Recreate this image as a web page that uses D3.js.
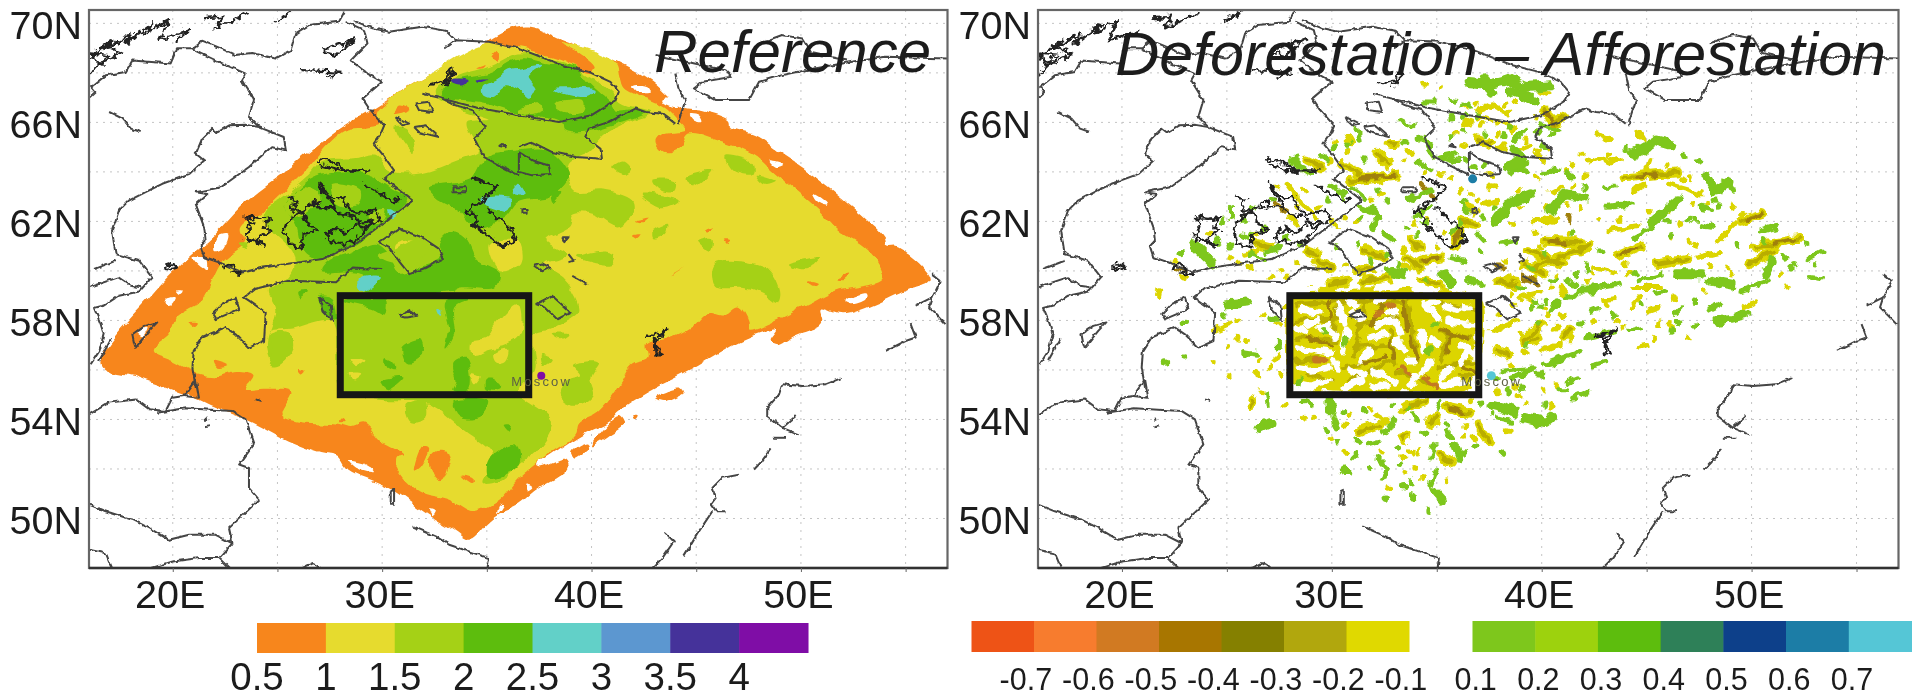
<!DOCTYPE html>
<html>
<head>
<meta charset="utf-8">
<style>
  body { margin: 0; background: #fff; }
  text { font-family: "Liberation Sans", Arial, sans-serif; fill: #1a1a1a; }
  .axis path { stroke: #333; stroke-width: 2.5; }
  .axis line { stroke: #666; }
  .axis text { font-size: 39.5px; }
</style>
<script src="https://cdn.jsdelivr.net/npm/d3@7"></script>
</head>
<body>
<div id="chart"></div>
<script>
// map values, all as flat lon,lat lists
var lonTicks = [20, 25, 30, 35, 40, 45, 50, 55];
var latTicks = [50, 52, 54, 56, 58, 60, 62, 64, 66, 68, 70];
var box = [28, 55, 37, 59];
var moscow = [37.6, 55.77];

var swathOrange = [
 [37,69.86,38.6,69.32,41.2,68.45,42.9,67.64,44.3,66.62,45.2,66.5,46.6,66.08,46.7,65.75,47.8,65.48,49.1,64.73,50.5,63.92,52.5,62.57,54,61.36,54.1,61,54.7,60.95,56.2,59.67,55,59.2,52.1,58.25,50.9,58.46,51,57.9,49.7,57.4,48.9,57.04,48.6,57.2,48.9,57.65,47.3,57.24,44.8,56.03,42.9,55.2,41.3,54.34,40.83,53.93,39.55,53.4,38.1,52.6,37.4,52.18,37.6,52.1,38.7,52.4,38.9,52.05,37.3,51.1,36.53,50.56,35.6,50.2,34.95,49.75,34.2,49.14,33.36,49.55,32.2,50.15,30.2,51.3,28.4,51.97,27.9,52.5,27,52.65,25.55,53.1,23.8,53.87,22.05,54.47,20.8,54.95,18.4,55.7,16.56,56.23,19.2,59.2,20.8,60.55,21.9,61.36,23.6,62.85,25.7,64.2,27.9,65.68,29.5,66.5,31.9,67.77,34,68.7,36.06,69.73],
 [41.31,54.14,41.55,53.8,41,53.4,40.03,52.92,40.35,53.4,40.83,53.87],
 [39.08,52.72,39.8,53.06,39.87,52.79,39.24,52.38],
 [42.98,54.88,44.25,55.28,44.41,55.08,43.54,54.75],
 [42,54.2,42.3,54.2,42.1,54]
];
var swathHoles = [
 [41.94,67.5,42.66,67.5,42.82,67.23,42.18,67.23],[43.38,66.96,43.93,66.96,44.17,66.62,43.53,66.76],[44.65,66.36,45.13,66.29,45.29,66.02,44.89,66.08],
 [48.55,64.46,49.2,64.33,48.87,64.2],[50.54,63.11,51.18,62.78,51.26,62.64,50.78,62.78],[22.13,61.36,22.6,61.43,22.37,60.89,21.9,60.82],
 [21,60.55,21.5,60.48,21.57,60.08,21.18,60.28],[19.66,58.86,20.14,58.93,19.9,58.6,19.63,58.63],[20.2,59.2,20.54,59.2,20.38,59.06],
 [28.42,52.31,29.22,52.18,29.7,51.84,28.74,52.04],[32.24,50.36,32.56,50.29,32.4,50.09],[35.59,50.56,35.83,50.63,35.5,50.22],
 [18.23,57.51,18.79,57.71,18.55,57.31],[52.13,58.8,53.09,59.13,53.09,58.86,52.3,58.66],[36.85,51.37,37.17,51.23,36.93,51.1]
];
var swathYellow = [
 [35.1,69.2,36.53,68.99,38.44,68.58,39.95,68.04,40.2,68.24,39.4,68.85,38.5,69.25,41.15,68.45,41.4,67.77,41.6,67.37,43.5,66.63,44.3,65.95,44.5,65.68,43.4,65.5,43.1,65.2,43.5,64.8,44.2,65,44.65,65.55,46.1,65.27,47.7,64.73,48.6,64.06,49.75,63.25,50.86,62.44,51.8,61.63,53.25,60.8,53.9,59.74,51.66,59.2,50.4,58.66,48.95,58.05,47.5,57.6,47.5,57.98,47,58.6,46.25,58.2,45.6,58.3,44.8,57.7,43.7,57.24,42.66,57,42.66,56.5,41.94,56.23,41.3,55.4,40.35,54.34,39.4,53.87,39.24,53.4,37.96,52.6,36.53,51.64,35.6,50.76,34.3,50.3,33.2,50.76,31.76,51.1,30.7,52.04,30.65,52.45,31.1,52.58,30,53.1,29.2,53.8,28.6,53.66,27.86,53.8,25.87,53.93,25.2,54.2,25.7,55.15,24.44,55.28,23.5,55.28,23.8,55.8,23,55.96,22.05,55.75,20.94,55.96,20,56.36,19,56.77,19.8,57.44,20.14,58.1,21.4,58.8,21.7,59.2,22.4,60.4,23.5,61.2,23.3,61.76,24.3,62.44,25.55,63.4,26.5,64.2,27.6,65.27,28.26,65.68,29.4,65.8,30,65.95,29.7,66.35,31.9,67.77]
];
var orangeSpots = [
 [42.18,62.03,42.74,62.14,42.5,61.97],[41.94,61.43,42.34,61.47,42.18,61.29],[45.42,61.7,45.8,61.83,45.6,61.63],[46.37,61.22,46.64,61.22,46.48,61.09],
 [43.82,59.87,44.41,60.17,44,59.94],[50.3,59.58,50.86,59.47,50.62,59.36],[51.74,59.67,52.3,59.85,52.06,59.63],[20.7,57.92,21.1,57.92,20.86,57.78],
 [21.97,56.36,22.7,56.16,22.13,56.1],[26.03,56.03,26.35,55.96,26.2,55.82],[28.02,54,28.26,53.87,27.94,53.87],[31.53,51.9,31.92,52.92,32.24,52.85,31.84,52.04],
 [32.24,52.31,32.56,52.72,33.28,52.58,33.2,52.04,32.88,51.44,32.56,51.5],[33.75,51.77,34.3,51.64,34.3,51.44],[30.57,66.35,31.37,66.56,30.8,66.76],
 [35.27,68.58,35.5,68.81,35.5,68.5],[34.55,68.18,34.95,68.31,34.8,68.18]
];
var limePatches = [
 [32.56,67.23,33.5,67.84,35.1,68.25,36.53,68.78,37.96,68.65,39.7,67.97,40.8,67.3,41.46,66.76,42.9,66.42,41.94,66.08,40.67,65.55,39.95,64.87,38.9,64.33,39.24,63.25,40.5,63.25,41.94,62.84,41.94,62.3,41.3,61.76,40,62.3,39.1,62.3,38.9,61.76,37.8,61.22,38.76,60.68,37.8,60.28,38.6,59.74,39.1,59.2,39.4,58.4,38.1,57.7,37.25,57.44,37.3,55.96,36.53,55.15,38.1,53.93,37.5,52.85,36.53,52.18,35.6,51.5,34.8,51.44,35.1,52.05,35.27,52.6,34,53.53,33.36,53.93,32.56,54.47,31.9,54.74,29.85,54.8,28.1,55.15,27.6,57.98,25.55,57.7,24.6,57.58,24.9,57.17,25.55,56.9,24.9,56.2,24.5,57,24.9,58.4,24.6,59.2,25.6,59.8,25.87,60.28,25.7,60.82,24.8,61.6,24.3,62.3,25.4,63.1,26.5,63.9,27.15,64.46,28.74,64.6,29.7,64.73,30.33,64.06,31.9,63.99,33.5,64.46,34.6,64.87,34.3,65.27,34,65.95,35.1,66.08,33.8,66.49],
 [31.13,54.6,32.1,54.74,32.1,54,31.3,53.87],[40.99,64.2,41.46,64.46,41.86,64.06,41.46,63.92],[42.9,63.65,44,63.65,43.93,63.25,43.2,63.3],[42.4,63.11,44.17,62.84,43.38,62.57],
 [44.5,63.79,45.77,64.06,44.8,63.38],[46.4,64.6,47.68,64.33,47.68,63.92,46.72,64.06],[47.84,63.92,48.8,63.65,48.3,63.52],
 [45.9,60.28,48.3,60.14,49,59.2,48.9,58.7,48.3,59,47.4,59.3,45.9,59.4],[49.43,60.28,50.86,60.55,50.2,60.07],[42.98,61.63,43.6,61.9,43.5,61.5,43,61.36],
 [45.13,61.22,45.85,61.36,45.77,60.82],[40.5,60.82,41.15,60.68,41,60.28,39.4,60.55],[39.16,56.2,40.35,56.3,39.95,55.7,40.1,54.95,39.25,54.55,38.5,54.88,38.76,55.55,39.5,55.8],
 [37.5,56.63,38.1,56.43,37.64,56.16],[38.1,57.44,38.9,57.44,38.5,57.24],[30.65,65.81,31.13,65.81,31.45,64.73,30.97,65.14],[23.17,61.09,23.64,61.09,23.48,60.89],
 [24.6,57.44,25.4,57.58,25.7,56.9,25.08,56.23,24.6,56.23,24.84,56.9]
];
var yellowOverLime = [
 [36.54,58.66,35.6,57.98,34.95,57.3,34.3,57.17,34.3,56.63,34.95,56.77,36.54,57.31],[35.27,56.63,36.06,56.84,35.9,56.36,35.4,56.3],[34.3,55.82,34.7,55.7,34.47,55.42],
 [28.4,56.5,29.2,56.43,28.74,56.16],[28.5,55.82,29,55.82,28.66,55.62],[30.65,61.09,31.6,61.22,31.76,60.41,30.8,60.55],[35.1,61.09,36.4,61.22,36.54,60.28,35.6,60]
];
var greenPatches = [
 [32.88,67,33.36,67.64,35.1,67.97,36.54,68.58,37.96,68.38,39.24,68.25,39.8,67.64,40.83,66.83,41.15,66.49,41.8,66.52,42.58,66.42,40.67,65.81,39.55,65.61,38.76,65.68,38.6,66.02,37.33,66.22,36.53,66.35,34.8,66.76,33.5,66.9],
 [33.5,63.59,34.3,63.79,34.95,64.6,36.54,64.87,37.96,64.87,38.92,63.92,38.6,63.38,37.96,63,36.53,62.78,35.9,62.17,34.47,61.76,33.67,62.44,32.56,62.98,32.24,63.38],
 [38.12,63.18,38.6,63.18,38.2,62.7],
 [27.15,63.93,29.2,63.93,30.33,63.38,31.2,62.9,30.33,62.17,28.74,61.09,27,60.48,26.2,60.95,25.87,61.9,25.4,62.57,26.2,63.5],
 [28.4,60.68,29.7,61.09,30.33,60.68,30.8,59.87,31.9,60.14,32.88,60.55,32.7,61.09,33.36,61.63,34,61.36,34.6,60.41,35.6,59.87,35.4,59.33,33.8,59.33,33.36,59.2,29.2,59.2,29.06,59.87,28.26,60.01,27.15,60.01,27.5,60.41],
 [28.1,58.8,30.17,58.86,30.17,58.25,29.38,58.52],[33.04,58.8,34.15,58.86,33.44,58.52,33.44,57.44,33.04,56.9,33.2,57.7],[30.97,56.9,31.92,57.24,32.08,56.77,31.29,56.3],
 [30.17,56.5,30.57,56.36,30.65,55.96,30.25,56.09],[29.93,55.55,30.97,55.69,30.25,55.22],[33.36,56.23,34,56.43,34.15,55.22,33.36,55.22,33.5,55.55],[34.95,55.55,35.6,55.42,35.6,55.22,34.95,55.22],
 [33.36,54.74,35.1,54.74,34.7,54.14,33.83,54.07,33.44,54.34],[35.35,52.58,36.38,52.99,36.54,52.18,35.1,51.64,34.95,52.04],[35.75,53.73,36.14,53.73,36,53.46],
 [26,59.07,26.5,59.13,26.1,58.86],[27,58.93,27.62,58.86,27.8,57.98,27.5,58.1]
];
var limeOverGreen = [
 [36.53,66.49,37.48,66.76,37.64,66.49,37,66.29],[38.28,66.76,39.55,66.9,39.55,66.49,38.6,66.49],
 [25.4,62.57,26.2,63.38,27,63,26.35,62.3,25.7,62.17],[27.6,63.5,28.9,63.25,28.74,62.57,27.8,62.7],[29.4,62.2,30.2,62.5,29.9,61.9],[29.8,60.6,30.6,60.9,31.6,61.3,32.3,60.7,31.5,60.3,30.6,60.3]
];
var cyanPatches = [
 [34.8,67.43,35.43,67.7,36.06,68.1,36.54,68.18,37.64,68.31,37,67.84,37.33,67.37,37,67.03,36.53,67.3,35.9,67.5,35.27,67.03,34.8,67.16],
 [38.12,67.37,40.1,67.3,39.87,67.06,38.9,67.1],[34.63,62.85,35.43,63.05,36.14,62.91,36,62.44,35.35,62.57],[28.98,59.74,30,59.8,29.38,59.33,29,59.2],
 [36.14,63.18,36.54,63.52,36.85,63.1,36.54,63.05],[30.3,62.5,30.65,62.3,30.4,62.17],[32.64,58.46,32.88,58.4,32.8,58.2]
];
var bluePatches = [[33.28,67.7,34.07,67.66,33.9,67.5,33.36,67.57],[34.47,67.73,35.03,67.77,34.55,67.64]];

var coastlines = [
 [16,67,16.3,67.23,16.1,67.43,16.8,67.9,17.75,68.04,18.07,68.5,19.9,68.38,20.2,68.99,20.94,68.99,21.4,69.3,22.13,69.05,23,68.72,23.8,68.8,24.9,68.58,25.63,68.92,25.87,69.6,26.5,69.93,27.94,70.07,28.2,70.47],
 [20.94,68.95,22.05,68.5,23.48,67.97,23.3,67.7,23.48,67.44,23.88,66.9,23.64,66.22,24.12,65.81],
 [24.12,65.81,23.5,65.9,22.7,65.88,22.13,65.6,21.9,65.75,21.4,65.34,21.1,64.73,21.5,64.46,20.8,63.92,19.5,63.52,18.7,63.18,17.9,62.84,17.43,62.44,17.1,61.63,17.27,60.68,18.4,60.41,19,59.74,18.4,59.17,17.43,59,16.7,58.6,16.24,58.5,16.56,57.85,16.7,57.44,16.5,56.77,16.08,56.23],
 [17.08,57.28,16.48,56.36],
 [24.12,65.81,25.3,65.41,25.4,64.87,24.7,65,23.64,64.2,22.3,63.38,21.1,63.18,21.65,63.11,21.1,62.7,21.5,61.76,21.57,61.22,21.33,61,21.5,60.55,22.2,60.35,23.33,59.94,24.3,60.14,27.15,60.48,28.74,61.09,31.45,62.84],
 [31.45,62.84,30.1,63.72,30.57,64.06,30,64.73,29.6,65.14,29.93,65.54,30.1,65.88,29.38,66.56,29.06,66.96,30,67.64,29.3,67.97,28.5,68.5,29.3,69.19,29.14,69.73,28.26,70.07],
 [30,60.08,29.3,60.1,28.6,60.14,27.8,59.54,25.55,59.6,23.9,59.27,23.4,58.93,23.64,58.8,24.44,58.32,24.36,57.17,23.64,56.9,23,57.44,22.53,57.71,21.41,57.31,21,56.77,20.94,56.1,21.1,55.28],
 [29.85,61.16,30.8,61.7,31.9,61.36,32.7,60.9,32.9,60.48,32.1,60.14,31.3,59.87,30.8,60.4,30.33,60.95,29.85,61.16],
 [33.36,63.38,34,63.38,34,63.18,33.36,63.18,33.36,63.38],
 [30.65,66.22,31.29,65.95,30.97,65.88,30.73,66.08,30.65,66.22],[31.53,65.81,32.08,65.88,32.72,65.41,31.76,65.61,31.53,65.81],[31.6,66.76,32.24,66.83,32.4,66.42,31.76,66.49,31.6,66.76],
 [35.75,65.14,35.9,65,35.6,65.05,35.75,65.14],
 [31.92,67.16,32.88,66.96,33.5,66.69,34.3,66.49,34.95,65.81,34.4,65.34,34.87,64.6,35.75,64.2,36.54,63.86],
 [36.53,65,37.17,65.2,38.12,64.8,39.24,64.6,40.5,64.53,40.43,64.93,39.7,65.41,39.87,65.75,40.83,66.02,42.1,66.56,42.58,66.42,43.38,66.35,44,65.95],
 [36.53,64.8,37.17,64.46,37.96,64.26,38.04,63.92,37.17,63.86,36.53,64,36.53,64.8],
 [32.88,66.96,34.5,66.6,36.54,66.29,38.44,66.02,40,66.29,41.15,66.9,41.3,67.23,40.9,67.64,39.87,68.04,38.6,68.31,36.53,68.99,35.1,69.26,33.5,69.32,32.96,68.99],
 [28.58,70.13,29.54,69.8,30.33,69.66,31.92,69.86,33.04,69.7,33.5,69.32],
 [44,67.97,44.17,67.3,44.49,66.9,44.17,66.08,44.17,65.88],
 [43.06,68.72,46.4,68.11,46.72,67.84,45.3,67.64,44.89,67.37,45.9,66.9,47.52,66.9,48,67.64,49.1,67.91,50.2,68.11,52.45,68.45,54.05,68.65,57,68.58],
 [48,69.19,49.1,69.53,50.07,69.39,50.5,68.8,52.2,68.5],
 [16.24,60.08,17.27,60.41],[16.96,66.42,17.6,66.15,18,65.75,18.47,65.61],[16,59.34,17.4,59.74,18,59.4,18.5,59.34],
 [18.15,57.1,18.07,57.44,18.63,57.78,19.26,57.92,18.87,57.58,18.23,56.9,18.15,57.1],
 [21.9,58.25,22.37,58.66,23,58.93,23.17,58.46,22.05,58.05,21.9,58.25],[21.1,55.62,20.54,54.95,21.25,54.88,21.1,55.62],
 [16,54.2,16.96,54.68,18.23,54.81,18.87,54.41,19.66,54.34,19.98,54.88,20.54,54.95],
 [19.26,54.27,20.6,54.45,22.85,54.34,23.48,54,23.88,52.99,23.17,52.18,23.64,52.04,23.64,51.23,24.12,50.76,22.69,49.61,22.85,49,22.21,48.4,22.69,48],
 [16,50.56,16.8,50.29,18.07,49.95,18.87,49.61,19.82,49.14,20.78,49.34,22.05,49.34,22.85,49],[16,48.74,16.8,48.6,17.1,48],[19,48,20,48.26,21.26,48.4,22.21,48.4],[26.2,48,26.67,48.2,27.07,48],
 [21.57,54.07,21.6,53.95],[21.5,53.69,21.8,53.73],[23.96,54.81,24.2,54.74],[30.41,51.1,30.57,51.17,30.57,50.56,30.41,50.56,30.41,51.1],
 [31.45,49.68,32.56,49.28,33.2,48.94,35.1,48.4,35.03,47.93],
 [54.05,56.77,55,57.17,55.48,57.31,55.24,57.85],[55.48,58.6,56.27,58.93,56.12,58.53,56.9,57.85],[56.27,59.87,56.67,59.6,56.44,59.2,56.27,58.93],
 [49.11,55.42,50.07,55.35,51.18,55.42,51.9,55.66],[49.11,55.42,48.95,55,48.39,54.47,48.39,54.14,49.11,53.66,49.75,54.14],[49.11,53.66,49.9,53.4],[48.63,53.26,49.27,53.26],
 [48.55,52.79,48.07,52.25,47.76,51.98],[47.04,51.77,46.24,51.64,45.77,51.23,45.93,50.83,45.69,50.56,45.93,50.29,46.4,50.29],[45.77,50.29,45.13,49.48,44.41,48.47],[43.54,49.41,43.93,49.07,43.38,48.4,42.82,47.93],
 [37.33,58.66,38.12,59,39,58.32,38.36,58.05,37.8,58.52,37.33,58.66],[26.99,58.93,27.55,58.6,27.62,57.98,27.15,58.4,26.99,58.93],[30.8,58.19,31.29,58.39,31.68,58.19,31.13,58.12,30.8,58.19],
 [36.7,62.5,36.9,62.5,36.9,62.35,36.7,62.35,36.7,62.5],[38.6,61.36,38.9,61.36,38.7,61.16,38.6,61.36],[38.9,60.68,39.15,60.41,38.9,60.35],[37.25,60.21,37.64,60.3,38.04,60.14,37.64,59.98,37.25,60.21],[39.08,59.8,39.8,59.47]
];
// lake clusters and fjords, drawn rougher and darker
var roughCoast = [
 [23.4,61.36,23.8,61.9,23.48,62.17,24.1,62.1,24.68,62.17,24.36,61.76,24.68,61.63,23.96,61.22,24.44,61.02,23.4,61.36],
 [25.4,63.05,25.87,62.84,25.7,62.44,26.2,62.44,27,62.84,26.9,62.57,27.78,62.57,27.15,63.38,27,63.52,27.3,62.98,28.1,62.98,28.34,62.57,28.74,62.3,29.7,62.44,29.93,62.03,29.06,61.76,28.74,62.17,28.1,62.3,27.46,62.57],
 [25.24,61.63,25.55,62.03,26.2,62.44,26.5,61.9,27,61.63,26.2,61.5,26.2,60.95,25.55,61.09,25.3,61.63],
 [27.3,61.36,27.78,61.76,28.26,61.5,28.74,61.9,29.54,62.03,28.74,61.22,28.26,61.09,27.46,61.22,27.3,61.36],
 [26.83,64.4,27.15,64.53,27.78,64.33,28.26,64.06,29.38,64.06,28.3,64,27,64.3],
 [29.06,63.52,29.85,63.18,30.65,62.78,30.9,62.98],
 [34.3,63.79,35.43,63.38,34.8,62.84,34,62.44,34.63,62.03,34.3,61.9,35.75,60.95,36.38,61.22,36.22,61.63,34.95,62.57],
 [32.24,67.5,33.04,67.7,33.28,68.25,33.36,67.9,32.88,67.43],
 [16,68.5,16.48,68.92,17.11,69.32,16.96,69.05,18.07,69.6,17.75,69.19,19.03,70,18.7,69.6,19.82,70.13,19.34,69.32,20.78,69.73,20.14,69.26],
 [16,67.84,16.48,68.38,16,68.78,16.96,68.72,16.32,68.25,17.6,68.78,16.8,69.05,17.75,69.39],
 [21.41,70.2,22.37,70.27,22.05,69.8,23.33,70.34,22.7,70.07,23.64,70.43],[24.9,70.07,25.7,70.47],
 [27.15,68.92,28.74,69.39,28.26,69.05,27.8,68.72,27.15,68.85],[26.1,68.11,27.15,68.08,28.1,68.04,27.4,67.84],
 [19.5,60.14,19.98,60.28,20.2,60.14,19.74,60.03,19.5,60.14],[22.37,60.14,22.85,60.28,23,60.01,23.33,59.87,22.7,59.94],
 [42.58,57.38,43.06,57.38,43.62,57.65,43.2,57.24,42.98,57.2,43.3,56.63,43.06,56.63,42.98,57.2]
];

// right panel marks: short streaks
var greenWide = [
 [36.47,67.63,37.43,67.56,38.4,67.77],[37.27,67.7,37.6,67.16],[38.4,67.3,39.65,66.9],[39.2,67.43,40.45,67.5],[38.4,67.77,39.2,67.43],[23.4,61.08,24.37,60.27],
 [37.75,61.9,38.4,62.7,39.5,63.1],[44.43,64.73,45.5,65.27,46.2,65.1],[47.8,63.85,48.25,63.25,48.9,63.6],[40.45,62.43,41.1,63.1,42.04,62.97],[45.2,61.9,46.5,62.85],
 [41.9,59.25,42.5,59.25],[46.5,59.87,47.6,59.87],[48.1,59.6,49.05,59.45],[50.65,59.87,50.96,60.4],[48.4,57.98,49.7,58.25],[25,58.65,25.96,58.72],[26.6,53.66,27.08,53.86],
 [29.94,54.74,29.94,54.33],[34.88,51.1,35.2,50.8],[35.9,52.85,36.07,52.45],[37.75,54.54,38.7,54.33],[39.2,54.07,40.13,53.86,40.45,54.07],
 [39.02,64.46,38.7,64.86],[39.02,64.46,38.38,64.19],[32.81,60,33.45,59.87],[35.36,59.87,35.68,59.46]
];
var greenThin = [
 [31.2,65.74,31.3,65.2],[28.35,64.6,28.35,64.35],[28.03,64.46,29,63.9],[29.47,64.66,29.8,64.53],[31.38,62.57,32.2,62.3],[31.54,62.97,30.9,63.38],[31.85,61.76,32.2,62.16],[32.49,61.49,32.97,61.22],
 [34.08,64.46,34.72,64.06],[35.2,64.6,35.84,64.73],[35.68,66.89,35.9,66.85],[36.3,66.7,36.6,66.65],[38.4,64.19,39.34,63.92],[36.95,61.49,37.27,61.22],[38.2,61.08,38.8,61.22],[35.68,60.54,36.3,60.41],
 [39.97,65.94,40.77,65.68],[39.2,65.68,38.7,65.27],[40.3,63.92,40.6,64.19],[40.6,62.7,40.93,63.1],[34.4,65.4,34.72,64.86],[25.17,62.57,25.17,62.16],[26.9,60.8,27.55,60.95],[29.94,63.5,30.58,62.97],
 [35.68,61.49,36.1,62],[33.3,66.08,33.6,65.94],[43,63.38,43.5,63.38],[38.54,63.92,39.33,64.33],[40.13,63.92,40.77,64.06],[43.16,62.57,44.27,62.7],[44.43,61.35,45.2,61.69],[47.6,61.83,48.1,61.76],
 [40.45,58.38,40.77,58.72],[46.34,58.25,46.66,58.52],[47.93,58.38,48.57,58.65],[44.6,59.6,45.7,59.87],[45.4,59.06,45.86,59.13],[52.7,60.5,53.35,60.8],[52.87,59.73,53.43,59.67],[50.48,61.62,51.28,61.83],
 [42.2,57.3,43.5,57.58],[40.13,56.23,41.9,56.77],[42.36,56.16,43,56.3],[41.17,55.48,41.72,55.68],[41.48,54.87,42.2,55.14],[40.77,55.2,41.17,55.2],[38.6,55.68,39.65,55.95],[38.06,61.08,38.77,61.22],
 [40.45,59.6,40.65,59.7],[41.17,58.9,41.72,59.13],[42.84,59.33,43.8,59.47],[42.3,58.38,42.7,58.52],[44.2,57.58,44.75,57.71],[47.6,62.57,48,62.5],[49.5,59.2,50.8,59.6],[27,58.05,27.4,58.05],[27.5,57.2,27.5,56.9],
 [25.8,56.7,26.36,56.63],[26.84,55,26.92,54.6],[28.83,54.74,29.15,54.6],[30.1,54.07,30.26,53.66],[28.5,55.55,28.5,55.4],[30.7,57.2,30.7,57],[34.72,56.9,34.56,56.7],[31.7,52.98,32.2,53.1],[31.2,52.58,31,52.4],
 [32.65,53.39,32.9,53.93],[33.9,54.2,34.1,53.93],[35.04,54.47,35.2,54.74],[35.5,53.53,35.68,53.25],[34.88,52.98,34.72,52.45],[37.9,54.07,38.5,53.93],[38.2,55.95,39.66,56.09],[40.13,56.22,40.93,56.36],
 [40.6,58.52,40.77,58.8],[32.17,52.45,32.65,52.04,32.4,51.63],[34.72,51.36,34.96,51.9],[30.6,51.9,30.9,51.9],
 [34.4,66.82,34.88,66.82],[34.56,65,34.88,64.6],[35.36,64.6,35.99,64.46],[33.6,62.84,34.72,63.24],[33.93,62.16,34.56,62.57],[36.15,62.7,36.47,62.43],[31.85,62.57,32.33,62.16],[36.47,59.73,37.11,59.46],[25,60.95,25.33,61.08],[26.12,60.68,26.76,60.54],[25.64,61.49,25.95,61.35]
];
var greenDots = [
 [34.1,65.3],[33.5,65.2],[30.1,65],[30.8,65.1],[31.6,64.5],[27.2,62.9],[26.2,62.5],[22.8,60.68],[23,57.9],[23,56.5],[24.93,58.25],[22.1,56.3],[29.62,57.57],[34.9,57.85],[29.7,53.53],[31.2,53.1],
 [34.4,53.5],[38.15,52.7],[32.57,50.8],[33.45,51.3],[34.56,50.35],[33.3,52.17],[33.8,50.9],[46.8,64.6],[47.45,64.46],[49.05,63.38],[48.4,62.6],[47,62.1],[46.2,61.4],[49.3,61],[51.9,60.1],[42.84,60.8],[41.4,63.78],[44.2,64.8],[36.9,66.3],[38.4,65.8],
 [41.5,61.5],[42.1,60.3],[41.5,59.5],[44.8,58.7],[47.3,58.8],[50.6,61.2],[52.6,61.1],[39.9,58.6],[43.4,58.2],[46.5,57.9],[38.3,62.3],[33.85,65.88],[37.27,64.32],[40.13,65],[28.5,61.08],[29.78,62.84],[30.26,63.1],
 [30.58,63.11],[31.38,62.16],[32.65,62.84],[32.17,63.24],[34.08,61.49],[34.4,62.03],[33.6,61.76],[36.31,62.84],[37.27,62.16],[37.75,62.57],[36.79,64.19],[36.31,64.46],[35.68,65.4],[36.31,65.67],[37.27,65.54],[38.22,65.4],[39.82,65.67],[40.45,65.54],[36.31,66.2],[35.68,66.21],[34.4,65.27],
 [26.12,61.49],[26.76,61.62],[24.85,62.03],[25.8,62.03],[24.53,61.22],[25.17,60.95],[27.87,61.35],[30.26,60.95],[31.22,61.08],[31.85,60.41],[32.65,60.68],[33.13,60.27],[34.4,59.6],[37.11,60.81],[39.5,60.14],[40.13,60.68],
 [41.24,63.92],[42.04,63.38],[43.95,64.93],[46,62.03],[47.3,62.03],[49.2,63.25],[48.25,62.84],[51.6,60.54],[52.07,60.27],[53.03,60.27],[41.72,59.87],[42.2,60.07],[41.24,59.6],[39.65,58.79],[41.88,57.84],[39.5,58.52],[39,59.33],[43.47,58.25],[44.43,59.87],[47.3,57.84],[46.2,57.6],
 [28.67,54.74],[30.58,54.33],[31.54,54.33],[32.81,54.6],[33.6,54.47],[32.49,53.52],[33.13,52.85],[35.5,53.8],[36.31,52.71],[36.79,52.98],[31.2,53.19],[30.26,53.12],[31.85,52.04],[30.58,51.97],[33.77,51.5],[37.11,54.6],[38.38,55.14],[37.59,54.2],[39,55.28],[40.13,54.6],[39.97,55.82],[37.9,55.68],[39.34,57.03],[39.82,57.84],[40.2,58.79]
];
var yellowWide = [
 [28.83,64.46,29.47,64.19],[30.58,64.32,31.38,63.92],[32.17,64.73,32.65,64.32],[30.9,63.65,33.13,63.85],[32.8,65.13,33.1,65.13],[26.44,61.08,27.08,60.95],[28.83,60.8,29.3,60.68],[31.54,60.8,32.49,60.54],[33.77,61.22,34.25,60.95],
 [34.25,60.41,35.2,60.54],[36.08,61.62,35.84,60.95],[39.34,60.8,40.93,60.27],[29.8,59.46,30.74,59.6],[31.54,59.6,32.65,59.73],[34.25,59.6,35.04,59.46],[37.9,59.6,38.86,59.46],[40.13,66.48,40.77,65.95],[43.95,63.78,46.5,63.99],
 [40.2,61.22,41.88,61.15],[39.5,60.14,40.45,60.41,42.36,61.02],[39.17,60.27,40.13,59.87],[43.63,60.61,44.75,61.02],[45.54,60.27,46.98,60.48],[49.5,62.03,50.5,62.3],[50.16,60.95,52.23,61.29],[49.84,60.27,51.1,60.8],
 [41.1,57.3,41.4,57.7],[39.17,57.17,39.97,57.84],[26.12,54.54,26.2,54.7],[33.45,53.25,33.5,53.35],[34.88,54.2,34.72,53.8],[35.5,54.47,36.6,54.27],[35.2,52.58,35.68,52.24],[37.9,56.76,38.4,56.63],[39.5,57.17,39.8,57.3],
 [29.3,60.41,29.94,60.14],[31.2,60,31.85,60.14],[33.6,60.54,34.24,60.14],[36.95,65.27,37.6,65.1],[40.6,65.81,40.93,66.21],[36.15,62.03,36.8,61.9],[33.45,54.47,34.4,54.74],[31.38,53.53,32.33,53.8],[36.95,53.8,37.5,53.1]
];
var yellowThin = [
 [30.74,65.47,31,65.1],[27.87,63.5,28.35,62.97],[28.5,62.84,29.3,62.16],[36.95,66.48,37.75,66.75],[38.7,64.86,39.5,65.13],[42.68,65.54,43.31,65.27],[44.59,65.6,44.83,65.27],[44.91,63.78,45.2,64.46],
 [44.43,63.24,44.91,63.5],[46,63.5,47.6,63.11],[43.16,61.62,44.59,61.83],[47.45,60.55,48.41,60.75],[48.41,61.22,49.2,61.9],[44.43,59.33,45.7,59.33],[44.27,58.52,44.67,58.92],[45.07,58.38,45.54,58.52],[45.62,57.84,45.62,57.95],
 [40.13,56.77,40.93,57.03],[44.6,56.97,45.07,57.03],[49.7,58.55,50.16,58.75],[42.52,60.14,43.47,59.94],[40.93,59.33,41.1,59.06],[40.45,63.18,40.93,63.38],[39.65,62.03,40.13,62.1],[24.37,57.57,25.17,57.85],[27.24,56.36,27.4,56.63],
 [32.17,54.2,32.65,53.93],[37.6,57.57,38.86,57.98],[39.97,56.76,40.77,57.03],[39,58.92,39.97,59.13],[21.75,59.05,21.75,58.93],[21.8,59.2,21.75,59.05],[33.2,60.3,33.7,60.1],[37.4,62.7,37.9,62.85],
 [25.8,60.68,26.44,60.8],[28.03,62.16,28.35,61.9],[29.94,62.03,30.26,61.76],[37.43,66.75,38.2,66.48],[36.95,66.21,37.59,66.08],[36.3,65.94,36.63,66.08],[38.22,65.94,38.7,65.68],[39.66,64.73,40.13,64.46],[39.82,67.3,40.3,67.16],[36.47,62.7,36.8,62.3],[37.27,62.7,37.75,62.84],[39.97,62.03,40.77,62.16],[40.45,61.22,40.93,61.15],
 [42.4,64.4,42.9,64.6,43.3,64.4,43.7,64.5],[43,58.8,43.5,58.85]
];
var yellowDots = [
 [25,56.97],[24.37,56.36],[25.08,55.75],[26.5,56.4],[27.5,55.8],[28.67,54.07],[27.7,54.6],[26.6,55.1],[30.6,52.7],[33.8,52.7],[32.7,51.2],[33.5,51.8],[34.3,51.6],[35.4,51.5],[36.3,53.3],[36.8,53.3],[38.9,55],[40.7,55.3],[40.5,54.6],
 [36.4,66.6],[37.1,65.9],[37.9,66],[38.4,66.4],[35.9,65.5],[33.7,64.8],[30.1,65.2],[34.5,62.1],[35.3,61.5],[37,62.4],[37.6,63.9],[38,64.9],[40.3,64.9],[41.2,64],[42.2,64.5],[41.5,63.4],[41.9,62.5],[43.2,64.7],[45.9,64.3],[46.7,63.7],
 [47.2,62.7],[49.1,62.6],[49.6,62.3],[46.1,62.4],[46.6,61.9],[45.1,62.4],[43.7,62.1],[42.7,62.1],[47.3,61.1],[48,60.2],[49,59.9],[42.4,59.9],[41,58.2],[42.2,59.6],[43.1,58.7],[44.2,59.9],[46.3,58.9],[47.8,59.2],[46.1,57.9],[43.9,57.7],[24.2,61.5],
 [26.3,61.5],[25.6,60.3],[27.6,60],[28.4,60.3],[32.9,59.9],[33.4,60.8],[34,61.9],
 [33.93,60.95],[34.4,60.54],[35.04,60.95],[34.08,60.27],[32.81,59.6],[31.54,59.87],[30.58,60.27],[29.31,60.14],[27.87,59.73],[27.08,59.73],[26.12,60.14],[25.17,60.54],[22.94,59.73],[22.46,60.41],[36.31,61.89],[36.95,62.84],[37.59,63.38],[36.63,63.11],[36.15,63.24],[35.68,63.78],[35.2,63.92],[34.4,63.92],[32.33,63.11],[31.85,62.84],[30.58,62.16],[31.22,62.03],[29.31,62.57],[28.35,62.57],[27.4,63.38],[28.67,63.24],[29.94,64.46],[30.74,64.86],[32.81,64.46],[33.45,64.46],
 [36.79,65.4],[37.43,65.27],[36.31,65.13],[38.22,65],[39.18,65.27],[39.82,64.86],[36.95,66.75],[37.59,66.62],[38.22,66.75],[36.47,65.94],[37.91,65.54],[39.66,66.2],[38.7,66.75],[34.4,67.56],[35.2,67.43],[39.82,63.78],[38.86,63.24],[37.75,63.38],[40.3,62.57],[40.61,62.03],[39.97,60.95],[38.22,60.41],[39.02,60.14],[38.38,59.73],[40.61,59.87],[39.66,59.73],
 [41.24,62.7],[47.1,63.78],[47.93,62.7],[46.2,61.35],[47,61.2],[48.9,60.14],[51.4,59.87],[51.67,59.33],[46.2,57.7],[45.4,57.3],[47,57.3],[40.13,58.52],[39.5,58.79],[38.54,59.06],[38.38,56.63],[39,57.43],[40.6,57.7],[42,60.95],[41.24,61.49],[39.65,61.62],[38.54,61.9],[39,62.57],[40.45,62.03],[43.95,60.27],[42.5,57.98],[43.63,57.98],[41.4,64.32],[41.9,64.73],[42.04,63.78],
 [30.9,54.2],[31.85,54.47],[30.58,53.8],[29.15,54.07],[29.94,53.25],[32.33,52.71],[33.45,52.44],[34.08,52.71],[33.93,52.04],[36.31,53.66],[35.04,53.93],[36.63,54.74],[38.38,53.52],[39.18,54.74],[40.13,55.14],[37.91,55.14],[38.7,55.28],[40.45,54.47],[37.9,56.9],[39.18,56.76],[38.54,56.22],[37.9,58.25],[38.7,58.65],[39.5,58.52],[40.3,58.25],[40.77,57.71],[40.45,59.33],[38.7,59.33],[39.34,58.92],
 [27.4,56.5],[27.08,56.09],[26.44,55.82],[27.4,57.84],[27.87,58.52],[26.68,58.25],[25.5,57.98],[25.5,57.3],[25.96,57.17]
];
var boxFill = [[28.2,59.2,30,59.35,33.5,59.35,36,59.2,37.1,58.9,37.1,56.4,36.6,55.2,33,54.95,29,55.1,28.1,55.6]];
var boxBands = [
 [28.27,58.65,31.2,58.8],[31.38,58.8,33.6,58.65],[35.2,58.65,36.95,58.38],[28.27,57.98,30.58,58.1],[31.2,57.85,33.13,58.1],[28.35,57.3,30.26,57.17],[30.26,58.8,30.1,57.17],[31.54,58.8,31.06,56.63],[32.8,57.57,32.97,56.22],
 [33.6,58.8,34.08,56.35],[28.35,56.35,29.46,56.5],[28.83,55.82,29.94,55.55],[30.58,56.09,32,56.36],[30.74,55.55,32.8,56.36],[31.2,56.9,33.13,57.03],[33.13,55.95,34.72,55.41],[35.2,57.57,36.64,57.3],[35.5,57.44,35.2,56.36],[35.04,56.09,36.95,56.36],[36.15,55.82,36.95,55.68]
];
var boxHoles = [
 [28.83,57.84,29.3,57.98],[30.34,58.65,30.58,57.84],[30.74,57.57,30.58,56.76],[28.35,56.9,28.99,56.76],[30.1,56.36,30.26,55.95],[28.99,55.95,29.79,56.09],[31.85,57.3,32.49,57.44],[32.17,57.84,32.97,57.98],[33.13,57.84,33.29,57.44],
 [34.24,57.57,34.4,56.76],[34.4,58.65,35.04,58.11],[35.52,57.98,36.79,57.84],[36.3,58.52,36.5,58.5],[34.72,56.36,34.4,55.95],[36.47,56.9,36.15,56.22],[35.68,56.09,35.2,55.68],[32,55.95,32.97,55.55],[33.6,56.36,33.9,56.36],[31.38,55.55,30.58,55.28],
 [29.79,55.55,29.15,55.41],[34.08,55.82,33.77,55.41],[35.2,55.41,36.3,55.55],[30.9,58.79,31.1,58.6],[32.17,58.79,32.5,58.92],[29.94,57.84,29.47,57.7],[28.35,57.71,28.67,57.57],[31.38,56.36,31.85,56.76],[33.13,57.17,33.45,56.76],[34.72,57.3,35.04,57.04],[36.95,56.9,36.95,56.5],[29.3,56.76,29.94,56.69],
 [28.5,58.4,29.3,58.35],[31,58.3,31.4,58.1],[32.7,58.35,33.1,58.3],[35.4,58.55,36,58.4],[28.4,56.1,28.8,56.05],[29.9,57.55,30.2,57.4],[30.9,56,31.5,55.8],[34.7,58.7,35,58.7],[36.2,57,36.7,56.6],[28.5,55.4,29,55.3],[31.9,55.4,32.6,55.3],[28.3,59.25,29.2,59.3],[30.4,59.3,31.2,59.35],[32.2,59.3,33,59.35],[34,59.3,35,59.25],[36.2,59.1,37,58.9],[37,57.6,37,57.2],[36.7,55.4,37,55.8],[33.2,55,34.5,55],[29.6,55.05,30.8,55]
];
var oliveMarks = [
 [29.8,58.8,29.94,58.1],[33.45,58.8,33.6,57.57],[33.77,57.3,34.08,56.5],[32.8,57.17,32.97,56.56],[35.2,57.64,36.47,57.3],[35.68,57.44,35.44,56.63],[36.3,56.09,36.95,55.89],[28.83,57.3,29.94,57.03],[31.54,56.22,32.49,56.5],[31.85,57.85,32.49,58.65],
 [22.46,60.14,22.94,60],[39.1,59.73,39.73,59.53],[39.34,59.73,39.8,59.5],[34.25,63.5,34.9,62.97],[31.3,63.72,33,63.85],[37.75,60.14,38.2,60.14],[40.45,61.22,41.1,61.15],[43.9,60.7,44.5,60.95],[51.1,61.15,52.07,61.29],[49.9,62.1,50.4,62.28],[44.4,63.8,45.4,63.85],[40.2,66.4,40.7,66],[36.08,61.62,35.84,61.1],[34.4,60.45,35,60.5],[41.32,62.17,41.32,61.97],[35.6,54.45,36.3,54.3],[27.24,62.7,27.87,62.43]
];
var brownMarks = [[34.4,55.68,34.96,55.28],[33.3,56.09,33.77,55.82],[32.1,58.32,32.4,58.32],[32.65,58.65,32.97,58.52],[29.15,56.43,29.7,56.43]];

var colorbarCells = ["#f7861c", "#e6db2f", "#a5d117", "#5dbd08", "#62d0c8", "#5b97d0", "#44319a", "#7f0da6"];
var colorbarLabels = [0.5, 1, 1.5, 2, 2.5, 3, 3.5, 4];
var negCells = ["#ee5316", "#f77b2e", "#d17a22", "#a87602", "#858005", "#b1a707", "#e0d902"];
var negLabels = [-0.7, -0.6, -0.5, -0.4, -0.3, -0.2, -0.1];
var posCells = ["#7ec71c", "#9dd20a", "#5dbd08", "#2f8058", "#0f3f8a", "#1a7da6", "#55c6d6"];
var posLabels = [0.1, 0.2, 0.3, 0.4, 0.5, 0.6, 0.7];

var svg = d3.select("#chart").append("svg").attr("width", 1915).attr("height", 699);
var defs = svg.append("defs");
defs.append("filter").attr("id", "soft").append("feGaussianBlur").attr("stdDeviation", 0.55);

// wobble filters: give the smooth vector edges the raster look of the original
function wobble(id, freq, seed, scale) {
  var f = defs.append("filter").attr("id", id)
    .attr("filterUnits", "userSpaceOnUse").attr("x", 0).attr("y", 0).attr("width", 1915).attr("height", 699)
    .attr("color-interpolation-filters", "sRGB");
  f.append("feTurbulence").attr("type", "fractalNoise").attr("baseFrequency", freq)
    .attr("numOctaves", 2).attr("seed", seed).attr("result", "n");
  f.append("feDisplacementMap").attr("in", "SourceGraphic").attr("in2", "n")
    .attr("scale", scale).attr("xChannelSelector", "R").attr("yChannelSelector", "G");
}
wobble("edge", 0.06, 3, 9);
wobble("blob", 0.1, 5, 10);
wobble("coast", 0.16, 7, 4);
wobble("rough", 0.17, 9, 10);

var root = svg.append("g").attr("filter", "url(#soft)");

var y = d3.scaleLinear().domain([48, 70.54]).range([568, 10]);

function pairs(a) { return d3.range(0, a.length, 2).map(function(i) { return [a[i], a[i + 1]]; }); }

function drawPanel(name, left, right, title, draw) {
  var x = d3.scaleLinear().domain([16, 57]).range([left, right]);
  var line = d3.line().x(function(d) { return x(d[0]); }).y(function(d) { return y(d[1]); });
  var smooth = d3.line().x(function(d) { return x(d[0]); }).y(function(d) { return y(d[1]); }).curve(d3.curveCatmullRomClosed.alpha(0.5));

  defs.append("clipPath").attr("id", "clip" + name).append("rect")
    .attr("x", left).attr("y", 10).attr("width", right - left).attr("height", 558);

  var g = root.append("g");

  // grid
  g.append("g").selectAll("line").data(lonTicks).join("line")
    .attr("x1", x).attr("x2", x).attr("y1", 10).attr("y2", 568)
    .attr("stroke", "#c4c4c4").attr("stroke-dasharray", "2 6");
  g.append("g").selectAll("line").data(latTicks).join("line")
    .attr("x1", left).attr("x2", right).attr("y1", y).attr("y2", y)
    .attr("stroke", "#c4c4c4").attr("stroke-dasharray", "2 5");

  var map = g.append("g").attr("clip-path", "url(#clip" + name + ")");

  function polys(data, fill) {
    map.append("g").attr("filter", "url(#edge)").selectAll("path").data(data).join("path")
      .attr("d", function(d) { return smooth(pairs(d)); })
      .attr("fill", fill);
  }
  function streaks(data, color, width) {
    map.append("g").attr("filter", "url(#blob)").selectAll("path").data(data).join("path")
      .attr("d", function(d) { return line(pairs(d)); })
      .attr("fill", "none").attr("stroke", color).attr("stroke-width", width)
      .attr("stroke-linecap", "round").attr("stroke-linejoin", "round");
  }
  function dots(data, color, r, filter) {
    map.append("g").attr("filter", filter ? "url(#blob)" : null).selectAll("circle").data(data).join("circle")
      .attr("cx", function(d) { return x(d[0]); }).attr("cy", function(d) { return y(d[1]); })
      .attr("r", r).attr("fill", color);
  }

  draw(polys, streaks, dots);

  // coast and borders
  map.append("g").attr("filter", "url(#coast)").selectAll("path").data(coastlines).join("path")
    .attr("d", function(d) { return line(pairs(d)); })
    .attr("fill", "none").attr("stroke", "#444").attr("stroke-width", 2).attr("stroke-linejoin", "round");
  map.append("g").attr("filter", "url(#rough)").selectAll("path").data(roughCoast).join("path")
    .attr("d", function(d) { return line(pairs(d)); })
    .attr("fill", "none").attr("stroke", "#222").attr("stroke-width", 2.4).attr("stroke-linejoin", "round");

  // study box
  g.append("rect")
    .attr("x", x(box[0])).attr("y", y(box[3]))
    .attr("width", x(box[2]) - x(box[0])).attr("height", y(box[1]) - y(box[3]))
    .attr("fill", "none").attr("stroke", "#141414").attr("stroke-width", 7);

  // Moscow
  g.append("text").attr("x", x(37.62)).attr("y", y(55.35)).attr("text-anchor", "middle")
    .style("font-size", "13px").style("letter-spacing", "2.2px").style("fill", "#5d6045").text("Moscow");

  // frame
  g.append("rect").attr("x", left).attr("y", 10).attr("width", right - left).attr("height", 558)
    .attr("fill", "none").attr("stroke", "#666").attr("stroke-width", 2.2);

  // axes
  var xAxis = d3.axisBottom(x).tickValues(lonTicks).tickSize(4).tickPadding(8)
    .tickFormat(function(d) { return d % 10 === 0 ? d + "E" : ""; });
  var yAxis = d3.axisLeft(y).tickValues(latTicks).tickSize(0).tickPadding(7)
    .tickFormat(function(d) { return (d - 50) % 4 === 0 ? d + "N" : ""; });
  var gx = g.append("g").attr("class", "axis").attr("transform", "translate(0,568)").call(xAxis);
  gx.selectAll("text").attr("dx", -3);
  gx.select(".domain").attr("d", "M" + left + ",0H" + right);
  var gy = g.append("g").attr("class", "axis").attr("transform", "translate(" + left + ",0)").call(yAxis);
  gy.selectAll("text").attr("dy", "0.39em");
  gy.select(".domain").remove();

  // title
  g.append("text").attr("x", title.x).attr("y", title.y).attr("text-anchor", "end")
    .style("font-size", title.size + "px").style("font-style", "italic").text(title.text);
}

drawPanel("a", 89, 947.5, {x: 931, y: 72, size: 60, text: "Reference"}, function(polys, streaks, dots) {
  polys(swathOrange, "#f7861c");
  polys(swathHoles, "#fff");
  polys(swathYellow, "#e6db2f");
  polys(orangeSpots, "#f7861c");
  polys(limePatches, "#a5d117");
  polys(yellowOverLime, "#e6db2f");
  polys(greenPatches, "#5dbd08");
  polys(limeOverGreen, "#a5d117");
  polys(cyanPatches, "#62d0c8");
  polys(bluePatches, "#44319a");
  dots([moscow], "#7f0da6", 4);
});

drawPanel("b", 1038, 1898.5, {x: 1886, y: 75, size: 61, text: "Deforestation – Afforestation"}, function(polys, streaks, dots) {
  streaks(yellowThin, "#dcd504", 5);
  dots(yellowDots, "#dcd504", 3, true);
  polys(boxFill, "#dcd504");
  streaks(boxBands, "#b9ad06", 4.5);
  streaks(boxHoles, "#fff", 7);
  streaks(yellowWide, "#dcd504", 10);
  streaks(yellowWide, "#b9ad06", 4.5);
  streaks(oliveMarks, "#a08008", 4);
  streaks(brownMarks, "#c47a20", 4.5);
  streaks(greenThin, "#7ec71c", 5);
  dots(greenDots, "#7ec71c", 3.2, true);
  streaks(greenWide, "#7ec71c", 10);
  dots([[36.71, 63.72]], "#1a7da6", 4.5);
  dots([moscow], "#55c6d6", 4.5);
});

// colour bars
function colorbar(cells, labels, x0, x1, y0, y1, fontSize, baseline, labelX) {
  var band = d3.scaleBand().domain(d3.range(cells.length)).range([x0, x1]);
  root.append("g").selectAll("rect").data(cells).join("rect")
    .attr("x", function(d, i) { return band(i); }).attr("y", y0)
    .attr("width", band.bandwidth() + 0.5).attr("height", y1 - y0)
    .attr("fill", function(d) { return d; });
  root.append("g").selectAll("text").data(labels).join("text")
    .attr("x", function(d, i) { return band(i) + labelX * band.bandwidth(); })
    .attr("y", baseline).attr("text-anchor", "middle")
    .style("font-size", fontSize + "px")
    .text(function(d) { return d; });
}
colorbar(colorbarCells, colorbarLabels, 257, 808, 623, 653, 38.5, 690, 0);
colorbar(negCells, negLabels, 971.5, 1409, 621, 652, 30.5, 690, 0.87);
colorbar(posCells, posLabels, 1472.5, 1911.5, 621, 652, 30.5, 690, 0.05);
</script>
</body>
</html>
